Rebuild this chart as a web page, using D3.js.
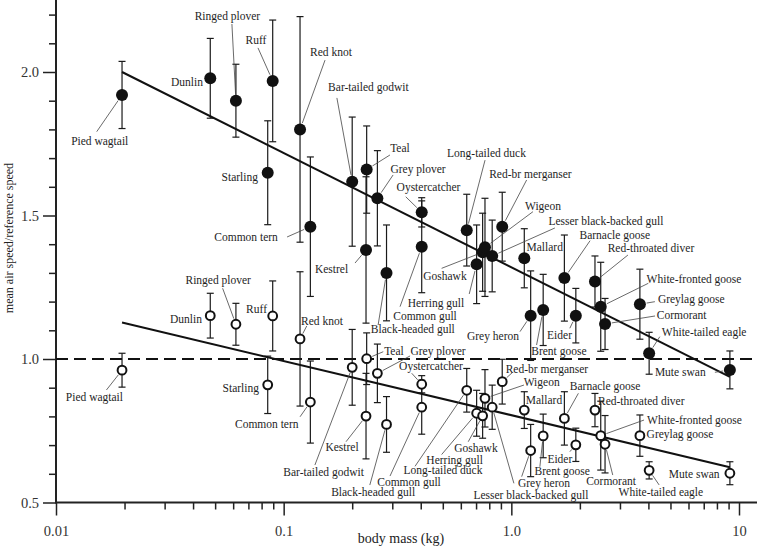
<!DOCTYPE html>
<html><head><meta charset="utf-8">
<script src="https://cdn.jsdelivr.net/npm/d3@7"></script>
<style>
html,body{margin:0;padding:0;background:#fff;}
svg{display:block;font-family:"Liberation Serif","Times New Roman",serif;}
</style></head>
<body><svg id="chart" width="758" height="547"></svg>
<script>
// ---------------- data ----------------
const species = ["Pied wagtail","Dunlin","Ringed plover","Ruff","Starling","Red knot","Common tern","Bar-tailed godwit","Teal","Kestrel","Grey plover","Black-headed gull","Oystercatcher","Common gull","Long-tailed duck","Herring gull","Goshawk","Wigeon","Lesser black-backed gull","Red-br merganser","Mallard","Grey heron","Brent goose","Barnacle goose","Eider","Red-throated diver","White-fronted goose","Cormorant","Greylag goose","White-tailed eagle","Mute swan"];
const bodyMass = [0.0195,0.0476,0.0617,0.0895,0.0851,0.118,0.131,0.200,0.2315,0.230,0.258,0.283,0.404,0.404,0.637,0.704,0.748,0.766,0.824,0.912,1.14,1.216,1.38,1.71,1.92,2.33,2.47,2.58,3.67,4.03,9.12];
const filledSpeed = [1.92,1.978,1.90,1.969,1.649,1.80,1.461,1.618,1.66,1.38,1.56,1.30,1.511,1.391,1.449,1.330,1.372,1.389,1.359,1.461,1.351,1.151,1.171,1.282,1.151,1.27,1.182,1.122,1.191,1.02,0.962];
const filledErr = [0.117,0.139,0.127,0.212,0.181,0.393,0.243,0.225,0.152,0.255,0.166,0.167,0.051,0.16,0.125,0.137,0.136,0.171,0.125,0.12,0.103,0.156,0.124,0.15,0.095,0.089,0.155,0.089,0.122,0.073,0.066];
const openSpeed = [0.961,1.151,1.121,1.150,0.910,1.070,0.850,0.971,1.001,0.801,0.950,0.772,0.912,0.832,0.891,0.811,0.802,0.863,0.832,0.921,0.822,0.681,0.732,0.793,0.701,0.822,0.733,0.703,0.733,0.612,0.602];
const openErr = [0.059,0.078,0.073,0.122,0.10,0.234,0.143,0.132,0.09,0.149,0.102,0.097,0.03,0.094,0.076,0.08,0.078,0.10,0.077,0.078,0.064,0.091,0.076,0.093,0.058,0.058,0.12,0.10,0.072,0.03,0.04];
const fitMass = [0.0195, 9.12];
const filledFit = [2.0, 0.938];
const openFit = [1.127, 0.623];
const referenceSpeed = 1.0;
const xMajorTicks = [0.01, 0.1, 1, 10];
const xMajorLabels = ["0.01", "0.1", "1.0", "10"];
const yMajorTicks = [0.5, 1.0, 1.5, 2.0];
const yMajorLabels = ["0.5", "1.0", "1.5", "2.0"];
const xTitle = "body mass (kg)";
const yTitle = "mean air speed/reference speed";

// ---------------- label layout (pixel offsets from each point) ----------------
// [dx, dy, anchor, leaderStartDx, leaderStartDy]
const filledLabelLayout = [
 [-22.3,49.7,"middle",-25.3,36.7],[-7.3,7.7,"end"],[-8.5,-80.7,"middle",-4,-76.7],[-16.7,-36.5,"middle",-14.7,-33],
 [-9.7,7.8,"end"],[31,-73.3,"middle",25,-69.3],[-64.3,14.8,"middle",-23.3,10.3],[16.2,-90.7,"middle",-15.3,-83.7],
 [33.3,-17.6,"middle",23.3,-14.6],[-34.5,23.1,"middle",-11,13.1],[40.7,-25.3,"middle",15.7,-23.3],[26.3,60.1,"middle",-8.4,52.1],
 [6.8,-21.3,"middle",-16,-15.6],[3.3,73.7,"middle",-21.7,59.9],[19.8,-73.6,"middle",18.3,-70],[-40.7,42.7,"middle",-7.4,29.7],
 [-37.7,27.8,"middle",-41,16.1],[58,-37.4,"middle",48,-35.7],[113.7,-31,"middle",62.7,-28],[28.2,-48.7,"middle",24.4,-46.7],
 [20.4,-7.3,"middle"],[-37.7,24.8,"middle",-10.7,16],[15.7,45.1,"middle",-6.6,35.1],[50.4,-39.1,"middle",25.7,-37.4],
 [-16.3,23.3,"middle",-6,12.6],[56,-29.5,"middle",33,-26.5],[93.3,-23.8,"middle",47.6,-23.5],[51.7,-5,"start",50,-8],
 [18,-1.2,"start",15,-2.5],[12.7,-17.3,"start",10.7,-16.6],[-75,6.1,"start",-15,2.4]
];
const openLabelLayout = [
 [-27.6,31.3,"middle",-15.6,19.8],[-8.3,7.3,"end"],[-17.7,-39.8,"middle",-13.3,-36],[-5.7,-3,"end"],
 [-8.7,7.2,"end"],[22,-14.4,"middle",6.7,-12.9],[-43.6,26,"middle",-10.3,14.7],[-28.6,108.7,"middle",-37.3,97.7],
 [27.3,-3.7,"middle",16.6,-7],[-24,34.9,"middle",-20,25.6],[60.7,-18.4,"middle",32.7,-17.4],[-13.4,71.6,"middle",-16.7,60.6],
 [9.3,-13.8,"middle",-10,-11],[-12.7,78.6,"middle",-31.7,68.8],[-23.7,83.9,"middle",-51.7,76],[-22,50.3,"middle",-35,41.3],
 [-6.7,36.2,"middle",-14.4,25.9],[56.7,-12.8,"middle",39,-13.3],[38.7,91.8,"middle",21.7,76.1],[44.7,-8.7,"middle",10,-9],
 [19.7,-5.6,"middle"],[13.3,36.4,"middle",-9,26.1],[19,39.1,"middle",-3.3,30.8],[40.7,-28.4,"middle",14,-25.1],
 [-16,18.2,"middle",-6,6.9],[46.3,-4.6,"middle"],[93.8,-11.6,"middle",43.3,-15.6],[6,40.8,"middle",7.7,30.8],
 [6.7,2.4,"start"],[11.7,26.1,"middle",10,14.6],[-35.7,4.8,"middle"]
];

// ---------------- scales ----------------
const svg = d3.select("#chart");
const x = d3.scaleLog().domain([0.01, 10]).range([56, 739]);
const xEnd = 757;
const y = d3.scaleLinear().domain([0.5, 2.25]).range([502.5, 0.25]);
const x0 = x(0.01), y0 = y(0.5);

// ---------------- axes ----------------
const xMinor = [];
[0.01, 0.1, 1, 10].forEach(d => { for (let k = 2; k <= 9; k++) { const v = d * k; if (x(v) <= xEnd) xMinor.push(v); } });
const yMinor = d3.range(6, 23).map(k => k / 10).filter(v => !yMajorTicks.some(m => Math.abs(m - v) < 1e-9));

const gx = svg.append("g").attr("transform", `translate(0,${y0})`);
gx.call(d3.axisBottom(x).tickValues(xMinor).tickSize(7).tickFormat(""));
gx.call(g => g.select(".domain").remove());
const gxM = svg.append("g").attr("transform", `translate(0,${y0})`);
gxM.call(d3.axisBottom(x).tickValues(xMajorTicks).tickSize(13).tickPadding(10)
   .tickFormat((d, i) => xMajorLabels[i]));
gxM.select(".domain").remove();
[gx, gxM].forEach(g => g.selectAll(".tick line").attr("stroke", "#222").attr("stroke-width", 1.5));
gxM.selectAll(".tick text").attr("font-size", 14.5).attr("fill", "#333").attr("font-family", "Liberation Serif, serif");

const gy = svg.append("g").attr("transform", `translate(${x0},0)`);
gy.call(d3.axisLeft(y).tickValues(yMinor).tickSize(7).tickFormat(""));
gy.select(".domain").remove();
const gyM = svg.append("g").attr("transform", `translate(${x0},0)`);
gyM.call(d3.axisLeft(y).tickValues(yMajorTicks).tickSize(13).tickPadding(4)
   .tickFormat((d, i) => yMajorLabels[i]));
gyM.select(".domain").remove();
[gy, gyM].forEach(g => g.selectAll(".tick line").attr("stroke", "#222").attr("stroke-width", 1.5));
gyM.selectAll(".tick text").attr("font-size", 14.5).attr("fill", "#333").attr("font-family", "Liberation Serif, serif");

svg.append("line").attr("x1", x0).attr("x2", xEnd).attr("y1", y0).attr("y2", y0)
   .attr("stroke", "#222").attr("stroke-width", 2);
svg.append("line").attr("x1", x0).attr("x2", x0).attr("y1", 0).attr("y2", y0 + 1)
   .attr("stroke", "#222").attr("stroke-width", 2);

svg.append("text").attr("x", 401).attr("y", 543).attr("text-anchor", "middle")
   .attr("font-size", 14).attr("fill", "#222").text(xTitle);
svg.append("text").attr("transform", "translate(13,238) rotate(-90)").attr("text-anchor", "middle")
   .attr("font-size", 12).attr("fill", "#222").text(yTitle);

// reference line
svg.append("line").attr("x1", x0).attr("x2", xEnd).attr("y1", y(referenceSpeed)).attr("y2", y(referenceSpeed))
   .attr("stroke", "#111").attr("stroke-width", 2).attr("stroke-dasharray", "12,6");

// ---------------- series ----------------
const rows = species.map((s, i) => ({ s, m: bodyMass[i], f: filledSpeed[i], fe: filledErr[i], o: openSpeed[i], oe: openErr[i], i }));

function errorBars(key, errKey) {
  const g = svg.append("g").attr("stroke", "#1a1a1a").attr("stroke-width", 1.2);
  rows.forEach(r => {
    const cx = x(r.m), top = y(r[key] + r[errKey]), bot = y(r[key] - r[errKey]);
    g.append("line").attr("x1", cx).attr("x2", cx).attr("y1", top).attr("y2", bot);
    g.append("line").attr("x1", cx - 3.5).attr("x2", cx + 3.5).attr("y1", top).attr("y2", top);
    g.append("line").attr("x1", cx - 3.5).attr("x2", cx + 3.5).attr("y1", bot).attr("y2", bot);
  });
}
errorBars("f", "fe");
errorBars("o", "oe");

const line = d3.line().x(d => x(d[0])).y(d => y(d[1]));
svg.append("path").datum(fitMass.map((m, i) => [m, filledFit[i]])).attr("d", line)
   .attr("fill", "none").attr("stroke", "#111").attr("stroke-width", 2);
svg.append("path").datum(fitMass.map((m, i) => [m, openFit[i]])).attr("d", line)
   .attr("fill", "none").attr("stroke", "#111").attr("stroke-width", 2);

// labels + leaders
function labels(key, layout, rr) {
  const g = svg.append("g");
  rows.forEach(r => {
    const L = layout[r.i];
    const px = x(r.m), py = y(r[key]);
    if (L.length > 3) {
      const sx = px + L[3], sy = py + L[4];
      const vx = sx - px, vy = sy - py, dist = Math.hypot(vx, vy);
      if (dist > rr) {
        g.append("line").attr("x1", sx).attr("y1", sy)
         .attr("x2", px + vx / dist * rr).attr("y2", py + vy / dist * rr)
         .attr("stroke", "#444").attr("stroke-width", 0.8);
      }
    }
    g.append("text").attr("x", px + L[0]).attr("y", py + L[1]).attr("text-anchor", L[2])
     .attr("font-size", 11.5).attr("fill", "#1e1e1e").text(r.s);
  });
}
labels("f", filledLabelLayout, 6.8);
labels("o", openLabelLayout, 6);

// points
svg.append("g").selectAll("circle").data(rows).join("circle")
   .attr("cx", d => x(d.m)).attr("cy", d => y(d.f)).attr("r", 6).attr("fill", "#111");
svg.append("g").selectAll("circle").data(rows).join("circle")
   .attr("cx", d => x(d.m)).attr("cy", d => y(d.o)).attr("r", 4.4)
   .attr("fill", "#fff").attr("stroke", "#111").attr("stroke-width", 2);
</script>
</body></html>
